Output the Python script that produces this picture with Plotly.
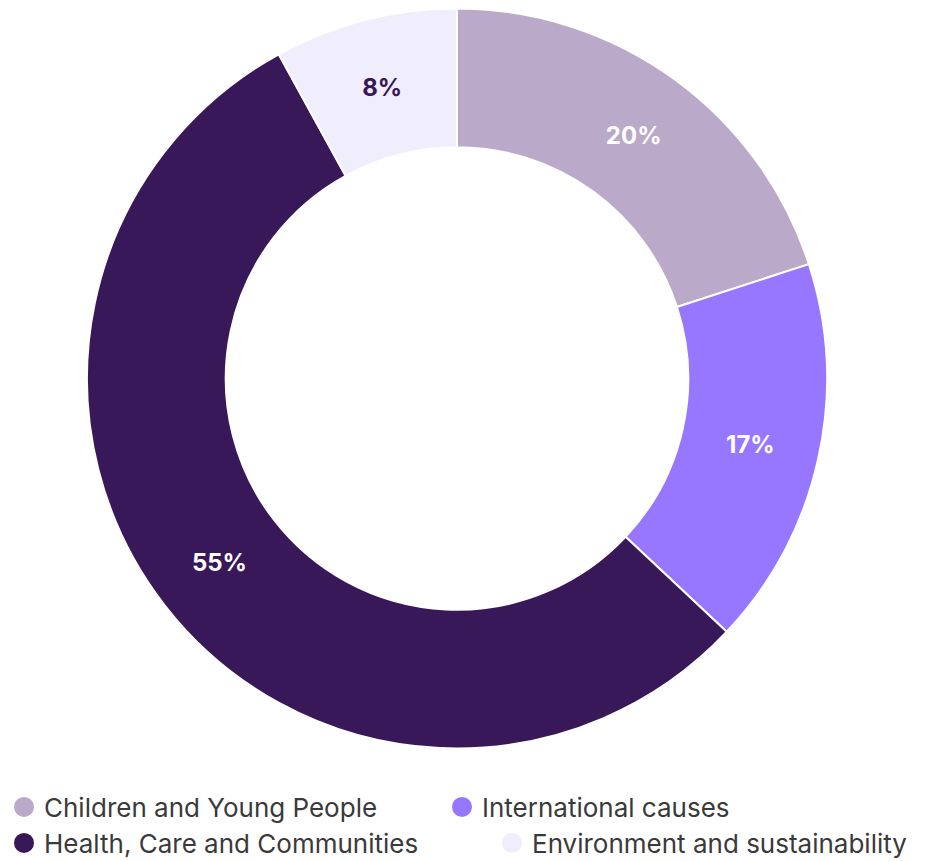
import plotly.graph_objects as go

categories = ["Children and Young People", "International causes",
              "Health, Care and Communities", "Environment and sustainability"]
values = [20, 17, 55, 8]
colors = ["#BBA9C9", "#9777FF", "#381858", "#F0EDFD"]
label_colors = ["#FFFFFF", "#FFFFFF", "#FFFFFF", "#381858"]

W, H = 938, 861
fig = go.Figure()
fig.add_trace(go.Pie(
    labels=categories, values=values, sort=False, direction="clockwise",
    rotation=0, hole=0.625,
    marker=dict(colors=colors, line=dict(color="#FFFFFF", width=2)),
    textinfo="percent", texttemplate="%{percent:.0%}",
    textposition="inside", insidetextorientation="horizontal",
    textfont=dict(family="Inter", size=24, color=label_colors, weight="bold"),
    showlegend=False, hoverinfo="label+percent",
    domain=dict(x=[87 / W, 827 / W], y=[(H - 749) / H, (H - 8) / H]),
))

# legend entry placement (pixels): left edge of each entry, row centre
legend_names = ["legend", "legend2", "legend3", "legend4"]
legend_x = [4, 442, 4, 492]
legend_y = [807, 807, 843, 843]
for name, col, lg in zip(categories, colors, legend_names):
    fig.add_trace(go.Scatter(
        x=[None], y=[None], mode="markers", name=name, legend=lg,
        marker=dict(symbol="circle", size=16, color=col, line=dict(color=col, width=4)),
    ))

legend_font = dict(family="Inter", size=26, color="#3a3a3a")
layout_legends = {}
for lg, lx, ly in zip(legend_names, legend_x, legend_y):
    layout_legends[lg] = dict(
        orientation="h", x=lx / W, xanchor="left", y=(H - ly) / H, yanchor="middle",
        font=legend_font, itemsizing="trace", bgcolor="rgba(0,0,0,0)",
        tracegroupgap=0, borderwidth=0,
    )

fig.update_layout(
    width=W, height=H, margin=dict(l=0, r=0, t=0, b=0, autoexpand=False),
    paper_bgcolor="white", plot_bgcolor="white",
    xaxis=dict(visible=False), yaxis=dict(visible=False),
    **layout_legends,
)
fig.write_html("out.html")
